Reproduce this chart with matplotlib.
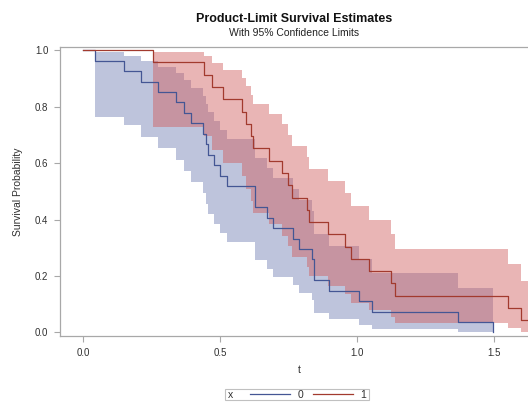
import matplotlib
matplotlib.use("Agg")
import matplotlib.pyplot as plt
from matplotlib.offsetbox import HPacker, DrawingArea

plt.rcParams['font.family'] = ['Liberation Sans', 'DejaVu Sans']

# Group x=0: event times, survival estimate, 95% limits
t0 = [0.043, 0.150, 0.211, 0.273, 0.337, 0.369, 0.394, 0.438, 0.447, 0.456, 0.476, 0.499,
      0.526, 0.627, 0.672, 0.693, 0.766, 0.787, 0.834, 0.843, 0.898, 1.006, 1.052, 1.366, 1.497]
s0 = [0.963, 0.926, 0.889, 0.852, 0.815, 0.778, 0.741, 0.704, 0.667, 0.630, 0.593, 0.556,
      0.519, 0.444, 0.407, 0.370, 0.333, 0.296, 0.259, 0.185, 0.148, 0.111, 0.074, 0.037, 0.0]
lo0 = [0.765, 0.735, 0.694, 0.652, 0.611, 0.571, 0.532, 0.494, 0.457, 0.421, 0.386, 0.352,
       0.319, 0.256, 0.225, 0.196, 0.168, 0.141, 0.115, 0.068, 0.047, 0.028, 0.013, 0.003]
hi0 = [0.995, 0.981, 0.963, 0.942, 0.918, 0.894, 0.867, 0.839, 0.811, 0.781, 0.750, 0.718,
       0.686, 0.618, 0.582, 0.546, 0.509, 0.470, 0.431, 0.348, 0.305, 0.259, 0.210, 0.159]

# Group x=1
t1 = [0.2555, 0.4405, 0.468, 0.509, 0.578, 0.593, 0.612, 0.618, 0.679, 0.724, 0.748,
      0.7605, 0.815, 0.824, 0.892, 0.956, 0.978, 1.044, 1.124, 1.139, 1.552, 1.596]
s1 = [0.957, 0.913, 0.870, 0.826, 0.783, 0.739, 0.696, 0.652, 0.609, 0.565, 0.522,
      0.478, 0.435, 0.391, 0.348, 0.304, 0.261, 0.217, 0.174, 0.130, 0.087, 0.043]
lo1 = [0.729, 0.695, 0.648, 0.601, 0.554, 0.509, 0.466, 0.424, 0.383, 0.343, 0.305,
       0.268, 0.233, 0.199, 0.166, 0.135, 0.106, 0.079, 0.054, 0.033, 0.015, 0.003]
hi1 = [0.994, 0.978, 0.956, 0.931, 0.903, 0.873, 0.842, 0.809, 0.774, 0.738, 0.700,
       0.661, 0.621, 0.580, 0.537, 0.493, 0.447, 0.399, 0.350, 0.297, 0.242, 0.182]
t1_end = 1.70

xticks = [0.0, 0.5, 1.0, 1.5]
yticks = [0.0, 0.2, 0.4, 0.6, 0.8, 1.0]

blue_line, blue_fill = '#445694', '#6F7EB3'
red_line, red_fill = '#A23A2E', '#D05B5B'
grey = '#A8A8A8'

fig = plt.figure(figsize=(5.28, 4.03), dpi=100)
ax = fig.add_axes([0.1127, 0.1663, 0.9074, 0.7179])

# confidence bands
ax.fill_between(t0, lo0 + [lo0[-1]], hi0 + [hi0[-1]], step='post',
                color=blue_fill, alpha=0.45, linewidth=0)
ax.fill_between(t1 + [t1_end], lo1 + [lo1[-1]], hi1 + [hi1[-1]], step='post',
                color=red_fill, alpha=0.45, linewidth=0)

# survival curves
l0, = ax.step([0.0] + t0, [1.0] + s0, where='post', color=blue_line, lw=0.9)
l1, = ax.step([0.0] + t1 + [t1_end], [1.0] + s1 + [s1[-1]], where='post',
              color=red_line, lw=0.9)

ax.set_xlim(-0.087, 1.662)
ax.set_ylim(-0.0124, 1.0128)
ax.set_xticks(xticks)
ax.set_xticklabels(['%.1f' % v for v in xticks])
ax.set_yticks(yticks)
ax.set_yticklabels(['%.1f' % v for v in yticks])
ax.tick_params(axis='both', length=4, width=0.8, color=grey, labelsize=7,
               labelcolor='#303030')
ax.tick_params(axis='x', pad=4.5)
ax.tick_params(axis='y', pad=4)
for side in ['left', 'bottom', 'top']:
    ax.spines[side].set_color(grey)
    ax.spines[side].set_linewidth(0.9)
ax.spines['right'].set_visible(False)

ax.set_xlabel('t', fontsize=7.5, color='#303030', labelpad=5.5)
ax.set_ylabel('Survival Probability', fontsize=7.5, color='#303030', labelpad=8.5)

fig.text(294.5 / 528, 1 - 19 / 403, 'Product-Limit Survival Estimates',
         ha='center', va='center', fontsize=9, fontweight='bold', color='#111111')
fig.text(294 / 528, 1 - 33 / 403, 'With 95% Confidence Limits',
         ha='center', va='center', fontsize=7.5, color='#222222')

leg = fig.legend(handles=[l0, l1], labels=['0', '1'], title='x', ncol=2,
                 loc='center', bbox_to_anchor=(297 / 528, 1 - 394.5 / 403),
                 fontsize=7.5, title_fontsize=7.5, handlelength=3.9,
                 handletextpad=0.7, columnspacing=0.9, borderpad=0.05,
                 fancybox=False, framealpha=1, edgecolor='#C0C0C0')
leg.get_frame().set_linewidth(0.8)
for txt in leg.get_texts():
    txt.set_color('#303030')
leg.get_title().set_color('#303030')
# put the legend title to the left of the entries, as SAS does
fs = leg._fontsize
inner = HPacker(pad=0, sep=1.6 * fs, align='center',
                children=[leg._legend_title_box, leg._legend_handle_box])
box = HPacker(pad=leg.borderpad * fs, sep=0, align='center',
              children=[DrawingArea(1.5, 1), inner, DrawingArea(1.5, 1)])
box.set_figure(fig)
box.set_offset(leg._findoffset)
leg._legend_box = box

fig.savefig('out.png', dpi=100)
